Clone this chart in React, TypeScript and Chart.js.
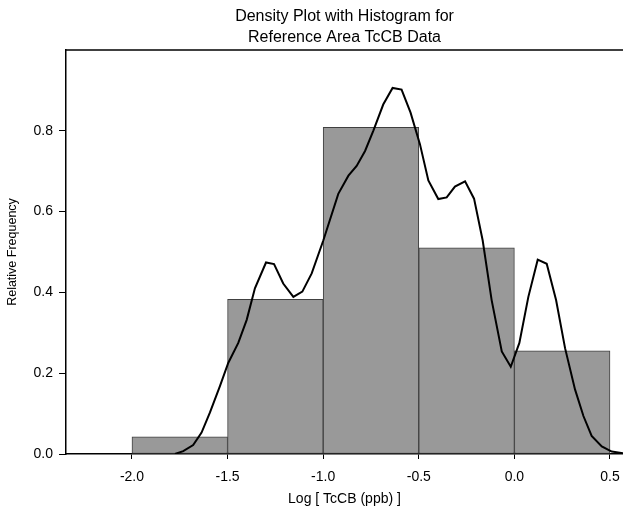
import React, { useEffect, useRef } from 'react';
import { Chart, registerables } from 'chart.js';

Chart.register(...registerables);

const titleLines = ['Density Plot with Histogram for', 'Reference Area TcCB Data'];
const xAxisTitle = 'Log [ TcCB (ppb) ]';
const yAxisTitle = 'Relative Frequency';

const binEdges = [-2.0, -1.5, -1.0, -0.5, 0.0, 0.5];
const relFreq = [0.0426, 0.383, 0.8085, 0.5106, 0.2553];

const densityX = [
  -1.775, -1.732, -1.68, -1.636, -1.592, -1.54, -1.496, -1.444, -1.4, -1.357,
  -1.299, -1.257, -1.209, -1.156, -1.109, -1.06, -0.999, -0.921, -0.868, -0.825,
  -0.781, -0.738, -0.686, -0.637, -0.59, -0.543, -0.494, -0.45, -0.398, -0.354,
  -0.311, -0.258, -0.211, -0.166, -0.119, -0.066, -0.019, 0.026, 0.073, 0.122,
  0.169, 0.218, 0.265, 0.317, 0.361, 0.404, 0.457, 0.509, 0.57,
];
const densityY = [
  0.0, 0.007, 0.022, 0.053, 0.103, 0.168, 0.226, 0.275, 0.332, 0.41,
  0.474, 0.47, 0.422, 0.389, 0.402, 0.447, 0.529, 0.644, 0.689, 0.713,
  0.75, 0.8, 0.865, 0.906, 0.902, 0.845, 0.767, 0.677, 0.631, 0.635,
  0.662, 0.675, 0.632, 0.529, 0.381, 0.254, 0.216, 0.275, 0.389, 0.481,
  0.471, 0.381, 0.262, 0.16, 0.094, 0.045, 0.019, 0.006, 0.002,
];

const xTicks = [-2.0, -1.5, -1.0, -0.5, 0.0, 0.5];
const yTicks = [0.0, 0.2, 0.4, 0.6, 0.8];
const xMin = -2.345;
const xMax = 0.568;
const yMin = 0;
const yMax = 1.0;

const FONT = "'Liberation Sans', Arial, sans-serif";

const topBorder = {
  id: 'topBorder',
  afterDraw(chart: any) {
    const { ctx, chartArea } = chart;
    ctx.save();
    ctx.strokeStyle = '#000';
    ctx.lineWidth = 1.5;
    ctx.beginPath();
    ctx.moveTo(chartArea.left - 0.75, chartArea.top);
    ctx.lineTo(chartArea.right, chartArea.top);
    ctx.stroke();
    ctx.restore();
  },
};

export default function App() {
  const ref = useRef<HTMLCanvasElement | null>(null);

  useEffect(() => {
    document.body.style.margin = '0';
    const canvas = ref.current;
    if (!canvas) return;

    const bars = relFreq.map((v, i) => ({ x: (binEdges[i] + binEdges[i + 1]) / 2, y: v }));
    const curve = densityX.map((x, i) => ({ x, y: densityY[i] }));

    const chart = new Chart(canvas, {
      type: 'bar',
      data: {
        datasets: [
          {
            type: 'line',
            data: curve,
            borderColor: '#000',
            borderWidth: 2,
            pointRadius: 0,
            tension: 0,
            fill: false,
            order: 0,
          } as any,
          {
            type: 'bar',
            data: bars,
            backgroundColor: '#999999',
            borderColor: '#404040',
            borderWidth: 1,
            borderSkipped: false,
            barPercentage: 1,
            categoryPercentage: 1,
            order: 1,
          } as any,
        ],
      },
      options: {
        responsive: false,
        animation: false,
        devicePixelRatio: 1,
        layout: { padding: 0 },
        plugins: {
          legend: { display: false },
          tooltip: { enabled: false },
          title: {
            display: true,
            text: titleLines,
            fullSize: false,
            color: '#000',
            font: { family: FONT, size: 16, weight: 'normal', lineHeight: 1.3125 },
            padding: { top: 6.5, bottom: 1.5 },
          },
        },
        scales: {
          x: {
            type: 'linear',
            min: xMin,
            max: xMax,
            offset: false,
            afterFit: (scale: any) => {
              scale.height = 54;
              scale.paddingLeft = 0;
              scale.paddingRight = 0;
            },
            afterBuildTicks: (scale: any) => {
              scale.ticks = xTicks.map((v) => ({ value: v }));
            },
            ticks: {
              color: '#000',
              font: { family: FONT, size: 14 },
              padding: 9.5,
              maxRotation: 0,
              autoSkip: false,
              callback: (v: any) => Number(v).toFixed(1),
            },
            grid: {
              display: true,
              offset: false,
              drawOnChartArea: false,
              drawTicks: true,
              tickLength: 5,
              color: '#000',
              lineWidth: 1,
            },
            border: { display: true, color: '#000', width: 1.5 },
            title: {
              display: true,
              text: xAxisTitle,
              color: '#000',
              font: { family: FONT, size: 14 },
              padding: { top: 0, bottom: 0 },
            },
          },
          y: {
            type: 'linear',
            min: yMin,
            max: yMax,
            afterFit: (scale: any) => {
              scale.width = 66;
              scale.paddingTop = 0;
              scale.paddingBottom = 0;
            },
            afterBuildTicks: (scale: any) => {
              scale.ticks = yTicks.map((v) => ({ value: v }));
            },
            ticks: {
              color: '#000',
              font: { family: FONT, size: 14 },
              padding: 6,
              callback: (v: any) => Number(v).toFixed(1),
            },
            grid: {
              display: true,
              drawOnChartArea: false,
              drawTicks: true,
              tickLength: 7,
              color: '#000',
              lineWidth: 1,
            },
            border: { display: true, color: '#000', width: 1.5 },
            title: {
              display: true,
              text: yAxisTitle,
              color: '#000',
              font: { family: FONT, size: 12.5 },
              padding: { top: 5.5, bottom: 0 },
            },
          },
        },
      },
      plugins: [topBorder],
    });

    return () => chart.destroy();
  }, []);

  return (
    <div style={{ position: 'fixed', left: 0, top: 0, width: 623, height: 508, background: '#fff' }}>
      <canvas ref={ref} width={623} height={508} style={{ display: 'block', width: 623, height: 508 }} />
    </div>
  );
}
